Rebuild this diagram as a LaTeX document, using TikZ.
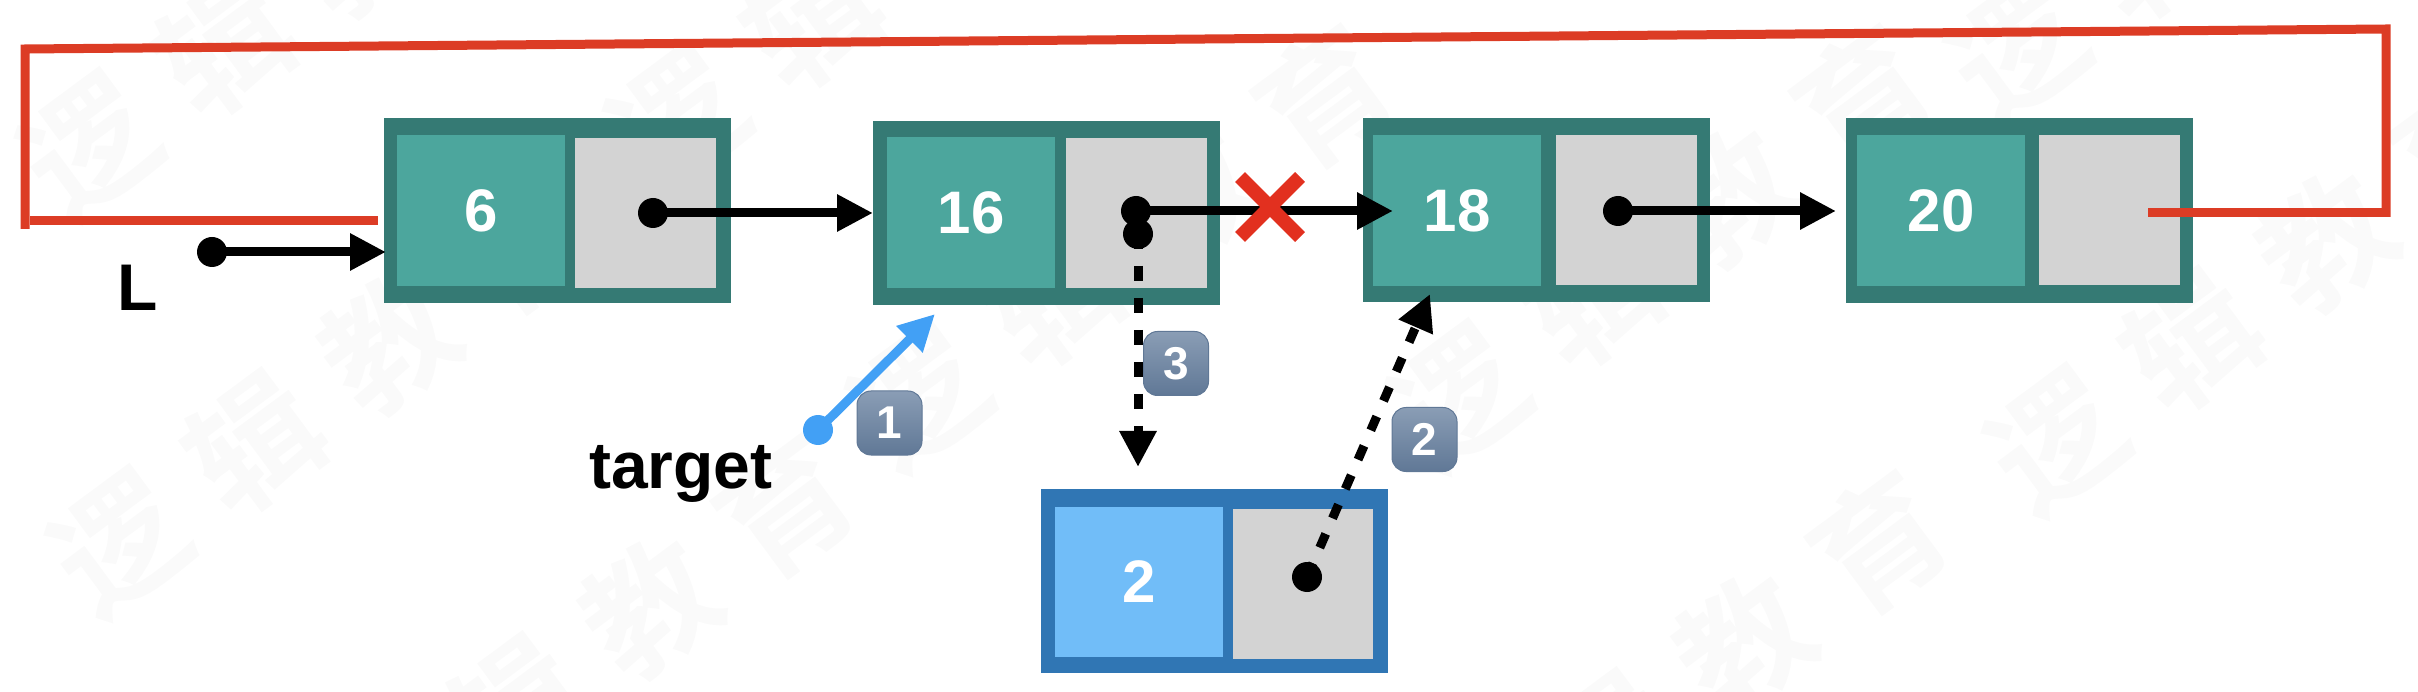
\documentclass[tikz,border=0pt]{standalone}
\usepackage{fontspec}
\setmainfont{Liberation Sans}
\newfontfamily\wmfont{Noto Sans CJK SC}[BoldFont={* Bold}]
\usetikzlibrary{arrows.meta,shapes.misc}
\definecolor{tealdark}{HTML}{357A74}
\definecolor{tealcell}{HTML}{4CA69D}
\definecolor{graycell}{HTML}{D3D3D3}
\definecolor{bluedark}{HTML}{3076B4}
\definecolor{bluecell}{HTML}{71BDF8}
\definecolor{linkred}{HTML}{DC3C25}
\definecolor{crossred}{HTML}{E2301F}
\definecolor{ptrblue}{HTML}{42A0F5}
\definecolor{wmgray}{HTML}{FAFAFA}
\tikzset{
  cell/.style={rectangle,inner sep=0pt,outer sep=0pt,minimum width=#1},
  outerteal/.style={cell=347pt,minimum height=184.5pt,fill=tealdark},
  outerblue/.style={cell=347pt,minimum height=184pt,fill=bluedark},
  valteal/.style={cell=168pt,minimum height=151pt,fill=tealcell,text=white,font=\fontsize{60}{60}\selectfont\bfseries},
  valblue/.style={cell=168pt,minimum height=150pt,fill=bluecell,text=white,font=\fontsize{60}{60}\selectfont\bfseries},
  ptrcell/.style={cell=141pt,minimum height=150pt,fill=graycell},
  dot/.style={circle,fill=black,inner sep=0pt,outer sep=0pt,minimum size=30pt},
  bluedot/.style={dot,fill=ptrblue},
  tipblack/.style={-{Triangle[length=36pt 0 0,width=35pt 0 0]}},
  link/.style={tipblack,line width=9pt,black},
  dashlink/.style={link,dash pattern=on 15pt off 17pt},
  bluelink/.style={-{Triangle[length=36pt 0 0,width=35pt 0 0]},line width=9pt,ptrblue},
  redline/.style={draw=linkred,line width=9pt},
  badge/.style={rectangle,rounded corners=14pt,minimum width=65pt,minimum height=64pt,inner sep=0pt,
    top color=BadgeTop,bottom color=BadgeBot,draw=BadgeBot,line width=1pt,text=white,font=\fontsize{46}{46}\selectfont\bfseries},
  label/.style={inner sep=0pt,outer sep=0pt,font=\fontsize{66}{66}\selectfont\bfseries,text=black},
  watermark/.style={inner sep=0pt,rotate=36.5,text=wmgray,font=\wmfont\bfseries\fontsize{130}{130}\selectfont}
}
\definecolor{BadgeTop}{HTML}{8A9DB5}
\definecolor{BadgeBot}{HTML}{607896}
\begin{document}
\begin{tikzpicture}[x=1pt,y=-1pt]
\useasboundingbox (0,0) rectangle (2418,692);
% watermark
\foreach \wx/\wy [count=\wi] in {90/146,678/119,120/543,920/397,1459/397,2057/441,381/807,1475/843,2018/50}{
  \node[watermark] (wm\wi) at (\wx+202,\wy-150) {逻\hspace{38pt}辑\hspace{38pt}教\hspace{38pt}育};
}
% list nodes
\node[outerteal] (n1) at (557.5,210.5) {};
\node[valteal]   (n1v) at (481,210.5) {6};
\node[ptrcell]   (n1p) at (645.5,213) {};
\node[outerteal] (n2) at (1046.5,213) {};
\node[valteal]   (n2v) at (971,213) {16};
\node[ptrcell]   (n2p) at (1136.5,213) {};
\node[outerteal] (n3) at (1536.5,210) {};
\node[valteal]   (n3v) at (1457,211) {18};
\node[ptrcell]   (n3p) at (1626.5,210) {};
\node[outerteal] (n4) at (2019.5,210.5) {};
\node[valteal]   (n4v) at (1941,210.5) {20};
\node[ptrcell]   (n4p) at (2109.5,210.5) {};
\node[outerblue] (s) at (1214.5,581) {};
\node[valblue]   (sv) at (1139,582) {2};
\node[ptrcell,minimum width=140pt] (sp) at (1303,584) {};
% labels
\node[label,anchor=base] (lL) at (138,311) {L};
\node[label,anchor=base] (lt) at (681,488) {target};
% pointer dots
\node[dot] (dL) at (212,252) {};
\node[dot] (d1) at (653,213) {};
\node[dot] (d2) at (1136,211) {};
\node[dot] (d2b) at (1138,234) {};
\node[dot] (d3) at (1618,211) {};
\node[dot] (ds) at (1307,577) {};
\node[bluedot] (dt) at (818,430) {};
% free ends
\coordinate (tipT) at (935,314);
\coordinate (tipS) at (1138,467);
\coordinate (tipN) at (1430,294);
\coordinate (redL) at (378,221);
\coordinate (redLb) at (30,221);
\coordinate (redBL) at (25,229);
\coordinate (redTL) at (25,49);
\coordinate (redTR) at (2386,29);
\coordinate (redBR) at (2386,217);
\coordinate (redE) at (2148,213);
\coordinate (redEb) at (2383,213);
% red wrap-around link
\draw[redline] (redBL) -- (redTL) -- (redTR) -- (redBR);
\draw[redline] (redLb) -- (redL);
\draw[redline] (redE) -- (redEb);
% arrows
\draw[link] (dL.center) -- ([xshift=2pt]dL -| n1.west);
\draw[link] (d1.center) -- (d1 -| n2.west);
\draw[link] (d2.center) -- ([xshift=30pt]d2 -| n3.west);
\draw[link] (d3.center) -- ([xshift=-10pt]d3 -| n4.west);
\draw[dashlink] (d2b.center) -- (tipS);
\draw[dashlink] (ds.center) -- (tipN);
\draw[bluelink] (dt.center) -- (tipT);
% cross
\node[cross out,draw=crossred,line width=14pt,inner sep=0pt,outer sep=0pt,minimum size=60pt] (x) at (1270,207) {};
% badges
\node[badge] (b1) at (889.5,423) {1};
\node[badge] (b3) at (1176,363.5) {3};
\node[badge] (b2) at (1424.5,439.5) {2};
\end{tikzpicture}
\end{document}
